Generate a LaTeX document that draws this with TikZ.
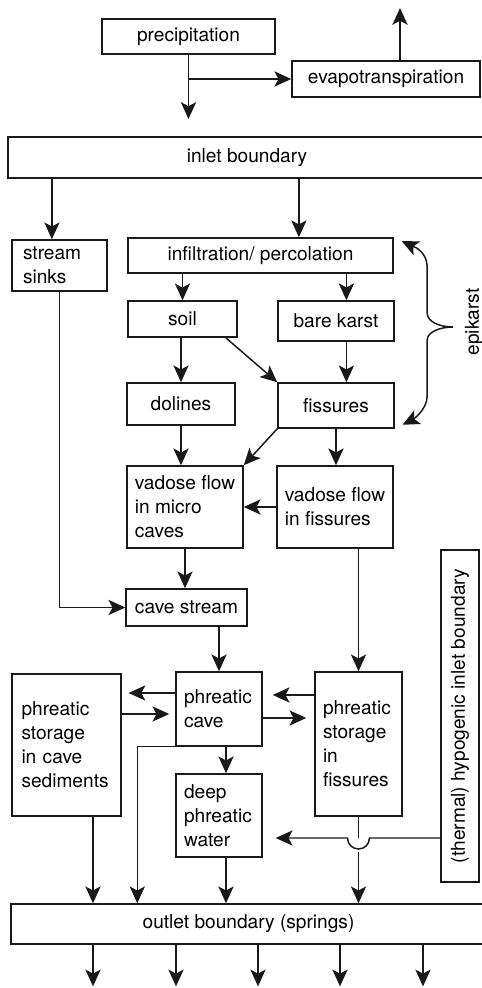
\documentclass[tikz,border=0pt]{standalone}
\usepackage{fontspec}
\setmainfont{TeX Gyre Heros}
\usetikzlibrary{arrows.meta,calc}

\begin{document}
\begin{tikzpicture}[
    font=\fontsize{13.6}{17}\selectfont,
    box/.style={draw=black!90, line width=1.05pt, align=center, inner sep=2pt},
    lbox/.style={box, align=left},
    arr/.style={-{Stealth[length=0.42cm, width=0.38cm, inset=0.1cm]}, line width=1.05pt,
      draw=black!90},
    ln/.style={line width=1.05pt, draw=black!90}
]
\useasboundingbox (0,0) rectangle (12.05,24.7);
\clip (0,0) rectangle (12.05,24.7);
\node[box, minimum width=4.325cm, minimum height=0.875cm] (prec) at (4.7125,23.7875) {precipitation};
\node[box, minimum width=4.7cm, minimum height=0.9cm] (evap) at (9.65,22.725) {evapotranspiration};
\node[box, minimum width=11.95cm, minimum height=1.025cm] (inlet) at (6.175,20.7625) {inlet boundary};
\node[lbox, text width=1.825cm, minimum width=2.375cm, minimum height=1.275cm] (sinks) at (1.4875,18.0625) {stream\\sinks};
\node[box, minimum width=6.625cm, minimum height=0.875cm] (infil) at (6.5125,18.3125) {infiltration/ percolation};
\node[box, minimum width=2.725cm, minimum height=0.9cm] (soil) at (4.5625,16.725) {soil};
\node[box, minimum width=2.9cm, minimum height=1cm] (bare) at (8.4,16.675) {bare karst};
\node[box, minimum width=2.7cm, minimum height=1.05cm] (dolines) at (4.525,14.6) {dolines};
\node[box, minimum width=2.9cm, minimum height=1.125cm] (fiss) at (8.4,14.5625) {fissures};
\node[lbox, minimum width=2.9cm, minimum height=2.05cm] (micro) at (4.625,12.025) {vadose flow\\in micro\\caves};
\node[lbox, minimum width=2.9cm, minimum height=2.05cm] (vfiss) at (8.375,12.025) {vadose flow\\in fissures};
\node[box, minimum width=3.025cm, minimum height=0.925cm] (cave) at (4.6625,9.5125) {cave stream};
\node[lbox, text width=1.75cm, minimum width=2.15cm, minimum height=1.85cm] (phcave) at (5.475,6.975) {phreatic\\cave};
\node[lbox, text width=1.775cm, minimum width=2.175cm, minimum height=3.6cm] (phfiss) at (8.9625,6.1) {phreatic\\storage\\in\\fissures};
\node[lbox, text width=2.25cm, minimum width=2.725cm, minimum height=3.55cm] (sed) at (1.6625,6.075) {phreatic\\storage\\in cave\\sediments};
\node[lbox, text width=1.75cm, minimum width=2.15cm, minimum height=2.075cm] (deep) at (5.475,4.3125) {deep\\phreatic\\water};
\node[box, rotate=90, minimum width=8.3cm, minimum height=0.95cm] (hypo) at (11.5,6.8) {(thermal) hypogenic inlet boundary};
\node[box, minimum width=11.875cm, minimum height=1cm] (outlet) at (6.2125,1.6) {outlet boundary (springs)};
\node[rotate=90] (epitxt) at (11.85,16.65) {epikarst};
\coordinate (precend) at (4.7125,21.725);
\coordinate (evapout) at (10,24.5);
\coordinate (epi) at (11.325,16.525);
\coordinate (hop) at (8.9625,3.75);
\draw[arr] (prec.south) -- (precend);
\draw[arr] (prec.south |- evap.west) -- (evap.west);
\draw[arr] (evapout |- evap.north) -- (evapout);
\draw[arr] ([xshift=-0.19cm]sinks.north |- inlet.south) -- ([xshift=-0.19cm]sinks.north);
\draw[arr] ([xshift=0.96cm]infil.north |- inlet.south) -- ([xshift=0.96cm]infil.north);
\draw[arr] (soil.north |- infil.south) -- (soil.north);
\draw[arr] ([xshift=0.26cm]bare.north |- infil.south) -- ([xshift=0.26cm]bare.north);
\draw[arr] (dolines.north |- soil.south) -- (dolines.north);
\draw[arr] ([xshift=-0.3cm]soil.south east) -- (fiss.north west);
\draw[arr] ([xshift=0.26cm]bare.south) -- ([xshift=0.26cm]bare.south |- fiss.north);
\draw[arr] (dolines.south) -- (dolines.south |- micro.north);
\draw[arr] (fiss.south west) -- (micro.north east);
\draw[arr] (fiss.south) -- (fiss.south |- vfiss.north);
\draw[arr] (vfiss.west) -- (micro.east);
\draw[arr] (micro.south) -- (micro.south |- cave.north);
\draw[arr] (sinks.south) |- (cave.west);
\draw[arr] (phcave.north |- cave.south) -- (phcave.north);
\draw[arr] (phfiss.north |- vfiss.south) -- (phfiss.north);
\draw[arr, shorten >=0.17cm] ([yshift=0.4cm]phcave.west) -- ([yshift=0.4cm]phcave.west -| sed.east);
\draw[arr, shorten >=0.15cm] ([yshift=0.775cm]sed.east) -- ([yshift=0.775cm]sed.east -| phcave.west);
\draw[arr, shorten >=0.25cm] ([yshift=1.225cm]phfiss.west) -- ([yshift=1.225cm]phfiss.west -| phcave.east);
\draw[arr, shorten >=0.2cm] ([yshift=-0.225cm]phcave.east) -- ([yshift=-0.225cm]phcave.east -| phfiss.west);
\draw[arr] ([xshift=0.175cm]phcave.south) -- ([xshift=0.175cm]deep.north);
\draw[arr] (phcave.south west) -| ([xshift=3.175cm]outlet.north west);
\draw[arr] ([xshift=0.175cm]deep.south) -- ([xshift=0.175cm]deep.south |- outlet.north);
\draw[arr] ([xshift=0.6625cm]sed.south) -- ([xshift=0.6625cm]sed.south |- outlet.north);
\draw[ln] (phfiss.south) -- (hop);
\draw[arr] ([yshift=-0.35cm]hop) -- (hop |- outlet.north);
\draw[arr, shorten >=0.325cm] (hypo.north |- hop) -- ([xshift=0.275cm]hop)
  arc[start angle=0, end angle=-180, radius=0.275cm] -- (hop -| deep.east);
\draw[arr, shorten >=0.22cm] (epi) .. controls (11,16.525) and (10.68,16.65) .. (10.68,16.875)
  -- (10.68,18) .. controls (10.68,18.45) and (10.3,18.55) .. (infil.north east);
\draw[arr, shorten >=0.22cm] (epi) .. controls (11,16.525) and (10.68,16.4) .. (10.68,16.2)
  -- (10.68,14.8) .. controls (10.68,14.45) and (10.3,14.2) .. (fiss.south east);
\foreach \i/\x in {1/2.325,2/4.4,3/6.45,4/8.5,5/10.575} {
  \coordinate (spring\i) at (\x,0.04);
  \draw[arr] (spring\i |- outlet.south) -- (spring\i);
}
\end{tikzpicture}
\end{document}
